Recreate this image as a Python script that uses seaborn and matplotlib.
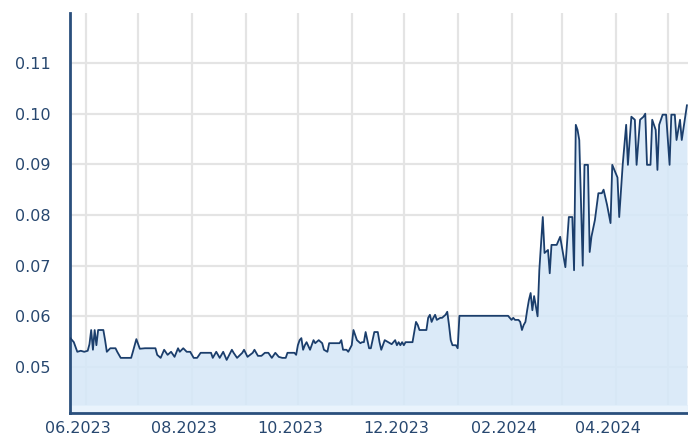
import numpy as np
import pandas as pd
import matplotlib
matplotlib.use("Agg")
import matplotlib.pyplot as plt
import matplotlib.dates as mdates
import matplotlib.transforms as mtransforms
import seaborn as sns

# ---- data (day offset from 2023-06-01, value) ----
day_offsets = [
    -9, -7, -5, -3, -1, 1, 2, 3, 4, 5, 6, 7, 9, 10, 11, 12, 14, 16, 17, 18,
    20, 23, 26, 27, 29, 31, 34, 37, 40, 41, 43, 45, 47, 49, 51, 53, 54, 56, 58, 60,
    62, 64, 66, 72, 73, 75, 77, 79, 81, 84, 85, 87, 90, 91, 93, 96, 97, 99, 101, 103,
    105, 107, 109, 111, 113, 115, 116, 120, 121, 122, 123, 124, 125, 126, 127, 129, 131, 132, 134, 136,
    137, 139, 140, 146, 147, 148, 150, 151, 153, 154, 156, 158, 159, 160, 161, 162, 163, 164, 165, 166,
    168, 169, 170, 172, 174, 176, 178, 179, 180, 181, 182, 183, 184, 188, 190, 191, 192, 196, 197, 198,
    199, 200, 201, 202, 204, 205, 207, 208, 209, 210, 211, 213, 214, 215, 243, 244, 245, 246, 247, 249,
    250, 251, 252, 253, 254, 255, 256, 257, 258, 260, 261, 263, 264, 266, 267, 268, 271, 273, 275, 276,
    278, 280, 281, 282, 283, 284, 286, 287, 289, 290, 291, 293, 295, 297, 298, 300, 302, 303, 306, 307,
    309, 311, 312, 314, 316, 317, 319, 321, 322, 323, 325, 326, 328, 329, 330, 332, 334, 336, 337, 339,
    340, 342, 343, 346,
]
values = [
    0.0557, 0.0549, 0.0530, 0.0532, 0.0530, 0.0532, 0.0545, 0.0573, 0.0534, 0.0573, 0.0543, 0.0573, 0.0573, 0.0573, 0.0553, 0.0530, 0.0537, 0.0537, 0.0537, 0.0530,
    0.0518, 0.0518, 0.0518, 0.0530, 0.0555, 0.0536, 0.0537, 0.0537, 0.0537, 0.0524, 0.0518, 0.0534, 0.0524, 0.0530, 0.0520, 0.0537, 0.0530, 0.0537, 0.0530, 0.0530,
    0.0518, 0.0518, 0.0528, 0.0528, 0.0518, 0.0530, 0.0518, 0.0530, 0.0514, 0.0534, 0.0528, 0.0518, 0.0528, 0.0534, 0.0520, 0.0528, 0.0534, 0.0522, 0.0522, 0.0528,
    0.0528, 0.0518, 0.0528, 0.0520, 0.0518, 0.0518, 0.0528, 0.0528, 0.0524, 0.0543, 0.0553, 0.0557, 0.0534, 0.0543, 0.0549, 0.0534, 0.0553, 0.0547, 0.0553, 0.0547,
    0.0534, 0.0530, 0.0547, 0.0547, 0.0553, 0.0534, 0.0534, 0.0530, 0.0543, 0.0573, 0.0553, 0.0547, 0.0549, 0.0549, 0.0569, 0.0553, 0.0537, 0.0537, 0.0553, 0.0569,
    0.0569, 0.0549, 0.0534, 0.0553, 0.0549, 0.0545, 0.0553, 0.0543, 0.0549, 0.0543, 0.0549, 0.0543, 0.0549, 0.0549, 0.0589, 0.0583, 0.0573, 0.0573, 0.0597, 0.0603,
    0.0589, 0.0597, 0.0603, 0.0593, 0.0597, 0.0597, 0.0603, 0.0609, 0.0583, 0.0553, 0.0543, 0.0543, 0.0537, 0.0601, 0.0601, 0.0597, 0.0593, 0.0597, 0.0593, 0.0593,
    0.0589, 0.0573, 0.0583, 0.0589, 0.0612, 0.0632, 0.0646, 0.0612, 0.0640, 0.0600, 0.0691, 0.0796, 0.0725, 0.0731, 0.0685, 0.0741, 0.0741, 0.0757, 0.0717, 0.0697,
    0.0796, 0.0796, 0.0691, 0.0978, 0.0968, 0.0948, 0.0700, 0.0899, 0.0899, 0.0727, 0.0757, 0.0790, 0.0843, 0.0843, 0.0850, 0.0820, 0.0784, 0.0899, 0.0874, 0.0796,
    0.0899, 0.0978, 0.0899, 0.0994, 0.0988, 0.0899, 0.0988, 0.0994, 0.1000, 0.0899, 0.0899, 0.0988, 0.0968, 0.0889, 0.0978, 0.0998, 0.0998, 0.0899, 0.0998, 0.0998,
    0.0948, 0.0988, 0.0948, 0.1017,
]
ytick_values = [0.05, 0.06, 0.07, 0.08, 0.09, 0.10, 0.11]
ytick_labels = ["0.05", "0.06", "0.07", "0.08", "0.09", "0.10", "0.11"]
xlabel_months = ["2023-06-01", "2023-08-01", "2023-10-01", "2023-12-01", "2024-02-01", "2024-04-01"]
xlabel_texts = ["06.2023", "08.2023", "10.2023", "12.2023", "02.2024", "04.2024"]

start = pd.Timestamp("2023-06-01")
dates = start + pd.to_timedelta(day_offsets, unit="D")
df = pd.DataFrame({"date": dates, "value": values})

sns.set_theme(style="white")
plt.rcParams["font.family"] = ["DejaVu Sans"]

line_col = "#1b3e6c"
fill_col = "#d6e8f8"
text_col = "#27476f"
grid_col = "#e4e4e4"

fig = plt.figure(figsize=(6.88, 4.44), dpi=100)
ax = fig.add_axes([70 / 688, 31 / 444, 618 / 688, 400 / 444])

ymin, ymax = 0.04092, 0.11987
base = 0.0425
xmin = start + pd.Timedelta(days=-9.2)
xmax = start + pd.Timedelta(days=346.6)

ax.set_xlim(xmin, xmax)
ax.set_ylim(ymin, ymax)

# grid
for m in pd.date_range("2023-06-01", "2024-05-01", freq="MS"):
    ax.axvline(m, color=grid_col, lw=1.6, zorder=0)
for v in ytick_values:
    ax.axhline(v, color=grid_col, lw=1.6, zorder=0)

# fills
ax.axhspan(ymin, base, color="#e9f3fc", zorder=1, lw=0)
ax.fill_between(df["date"], base, df["value"], color=fill_col, alpha=0.88, lw=0, zorder=1)

sns.lineplot(data=df, x="date", y="value", ax=ax, color=line_col, lw=1.3, zorder=3)

ax.set_xlabel("")
ax.set_ylabel("")
ax.set_yticks(ytick_values)
ax.set_yticklabels(ytick_labels)
ax.set_xticks(pd.to_datetime(xlabel_months))
ax.set_xticklabels(xlabel_texts)
ax.tick_params(axis="both", length=0, colors=text_col, labelsize=11.5)
ax.tick_params(axis="y", pad=14)
ax.tick_params(axis="x", pad=6)
offset = mtransforms.ScaledTranslation(-8 / 100, 0, fig.dpi_scale_trans)
for lab in ax.get_xticklabels():
    lab.set_transform(lab.get_transform() + offset)

for s in ["top", "right"]:
    ax.spines[s].set_visible(False)
for s in ["left", "bottom"]:
    ax.spines[s].set_color("#2a4f7c")
    ax.spines[s].set_linewidth(2)

fig.savefig("out.png", dpi=100)
